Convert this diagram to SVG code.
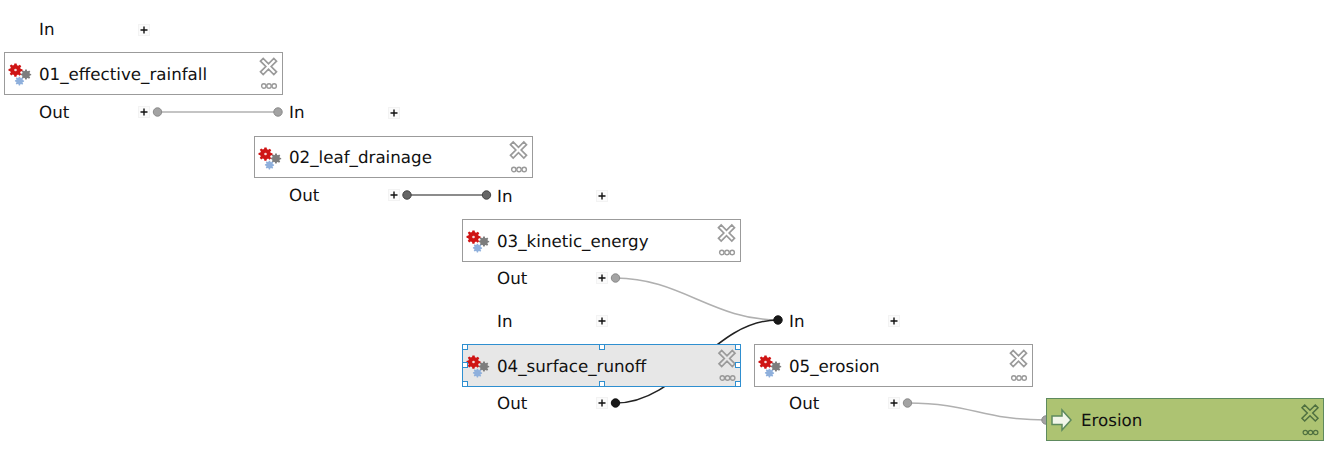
<svg xmlns="http://www.w3.org/2000/svg" width="1330" height="451" viewBox="0 0 1330 451">
<style>
text{font-family:"DejaVu Sans",sans-serif;font-size:16.7px;fill:#111;text-rendering:geometricPrecision}
.box{fill:#fff;stroke:#9b9b9b;stroke-width:1}
.sel{fill:#e7e7e7;stroke:#2f8fd0;stroke-width:1}
.out{fill:#adc372;stroke:#5e8a5e;stroke-width:1}
.h{fill:#fff;stroke:#2f8fd0;stroke-width:1}
.plusbg{fill:#fbfbfb;stroke:#f3f3f3;stroke-width:1}
.plus{stroke:#111;stroke-width:1.4;fill:none}
.lg{fill:none;stroke:#b0b0b0;stroke-width:1.5}
.ld{fill:none;stroke:#666;stroke-width:1.5}
.lb{fill:none;stroke:#222;stroke-width:1.5}
.dg{fill:#a3a3a3;stroke:#8a8a8a}
.dd{fill:#666;stroke:#444}
.db{fill:#181818;stroke:#111}
.x{fill:none;stroke:#9a9a9a;stroke-width:1.7}
.xo{fill:none;stroke:#4f7040;stroke-width:1.5}
</style>
<defs>
<g id="add"><rect class="plusbg" x="-5.5" y="-5.5" width="11" height="11"/><path class="plus" d="M-3.5 0H3.5M0-3.5V3.5"/></g>
<path id="gear" d="M-1.2-7.200H1.2L1.6-5.200 3-4.600 4.700-5.800 6.300-4.200 5.100-2.500 5.700-1.200 7.600-.8V1.200L5.600 1.600 5 2.900 6.200 4.600 4.400 6.200 2.800 5 1.400 5.600 1 7.400H-1.200L-1.600 5.400-3 4.800-4.700 6-6.300 4.200-5.100 2.700-5.700 1.300-7.600.9V-1.100L-5.600-1.500-5-2.800-6.200-4.500-4.600-6.100-2.900-4.900-1.600-5.500Z"/>
<g id="gears">
<use href="#gear" fill="#7d7d7d" transform="translate(17,12.500) scale(.68)"/>
<use href="#gear" fill="#8fb0dc" transform="translate(10.500,19) scale(.6)"/>
<use href="#gear" fill="#cf1414" transform="translate(6.500,8) scale(.92)"/>
<circle cx="6.500" cy="8" r="1.300" fill="#f4dada"/>
</g>
<g id="ctl">
<path class="x" d="M0 2.700 2.700 0 8 5.300 13.300 0 16 2.700 10.700 8 16 13.300 13.300 16 8 10.700 2.700 16 0 13.300 5.300 8Z"/>
<g class="x" style="stroke-width:1.400"><circle cx="3.300" cy="27.500" r="2.200"/><circle cx="8.500" cy="27.500" r="2.200"/><circle cx="13.700" cy="27.500" r="2.200"/></g>
</g>
<g id="ctlo">
<path class="xo" d="M0 2.700 2.700 0 8 5.300 13.300 0 16 2.700 10.700 8 16 13.300 13.300 16 8 10.700 2.700 16 0 13.300 5.300 8Z"/>
<g class="xo" style="stroke-width:1.200"><circle cx="3.300" cy="27.500" r="2.200"/><circle cx="8.500" cy="27.500" r="2.200"/><circle cx="13.700" cy="27.500" r="2.200"/></g>
</g>
</defs>
<rect width="1330" height="451" fill="#fff"/>

<g id="connectors">
<path class="lg" d="M157.500 112H278"/>
<circle class="dg" cx="157.500" cy="112" r="4.200"/><circle class="dg" cx="278" cy="112" r="4.200"/>
<path class="ld" d="M407 195H486.500"/>
<circle class="dd" cx="407" cy="195" r="4.200"/><circle class="dd" cx="486.500" cy="195" r="4.200"/>
<path class="lg" d="M615.500 278C680 278 713 320 778 320"/>
<circle class="dg" cx="615.500" cy="278" r="4.200"/>
<path class="lb" d="M615.500 403C680 403 713 320 778 320"/>
<circle class="db" cx="615.500" cy="403" r="4.200"/><circle class="db" cx="778" cy="320" r="4.200"/>
<path class="lg" d="M907.500 403C972 403 981 420 1046 420"/>
<circle class="dg" cx="907.500" cy="403" r="4.200"/><circle class="dg" cx="1046" cy="420" r="4.200"/>
</g>

<g id="node-01">
<text x="39" y="35">In</text><use href="#add" x="144" y="30"/>
<rect class="box" x="4.500" y="52.500" width="278" height="42"/>
<use href="#gears" x="9" y="62"/>
<text x="39" y="80">01_effective_rainfall</text>
<use href="#ctl" x="260.500" y="58.500"/>
<text x="39" y="118">Out</text><use href="#add" x="144" y="112"/>
</g>
<g id="node-02">
<text x="289" y="118">In</text><use href="#add" x="394" y="113"/>
<rect class="box" x="254.500" y="136.500" width="278" height="41"/>
<use href="#gears" x="259" y="146"/>
<text x="289" y="163">02_leaf_drainage</text>
<use href="#ctl" x="510.500" y="142"/>
<text x="289" y="201">Out</text><use href="#add" x="394" y="195"/>
</g>
<g id="node-03">
<text x="497" y="202">In</text><use href="#add" x="602" y="196"/>
<rect class="box" x="462.500" y="219.500" width="278" height="42"/>
<use href="#gears" x="467" y="229"/>
<text x="497" y="247">03_kinetic_energy</text>
<use href="#ctl" x="718.500" y="225"/>
<text x="497" y="284">Out</text><use href="#add" x="602" y="278"/>
</g>
<g id="node-04">
<text x="497" y="327">In</text><use href="#add" x="602" y="321"/>
<rect class="sel" x="462.500" y="344.500" width="278" height="42"/>
<use href="#gears" x="467" y="354"/>
<text x="497" y="372">04_surface_runoff</text>
<use href="#ctl" x="719" y="350.500"/>
<g>
<rect class="h" x="462.500" y="344.500" width="5" height="5"/><rect class="h" x="599.500" y="344.500" width="5" height="5"/><rect class="h" x="735.500" y="344.500" width="5" height="5"/>
<rect class="h" x="462.500" y="362.500" width="5" height="5"/><rect class="h" x="735.500" y="362.500" width="5" height="5"/>
<rect class="h" x="462.500" y="381.500" width="5" height="5"/><rect class="h" x="599.500" y="381.500" width="5" height="5"/><rect class="h" x="735.500" y="381.500" width="5" height="5"/>
</g>
<text x="497" y="409">Out</text><use href="#add" x="602" y="403"/>
</g>
<g id="node-05">
<text x="789" y="326.500">In</text><use href="#add" x="894" y="321"/>
<rect class="box" x="754.500" y="344.500" width="278" height="42"/>
<use href="#gears" x="759" y="354"/>
<text x="789" y="372">05_erosion</text>
<use href="#ctl" x="1010.500" y="350.500"/>
<text x="789" y="409">Out</text><use href="#add" x="894" y="403"/>
</g>
<g id="node-output">
<rect class="out" x="1046.500" y="398.500" width="277" height="42"/>
<path d="M1052 416H1062V410L1071 420 1062 430V424.500H1052Z" fill="#f2f6ea" stroke="#5e8a5e" stroke-width="1.500"/>
<text x="1081" y="426">Erosion</text>
<use href="#ctlo" x="1302" y="405"/>
</g>
</svg>
